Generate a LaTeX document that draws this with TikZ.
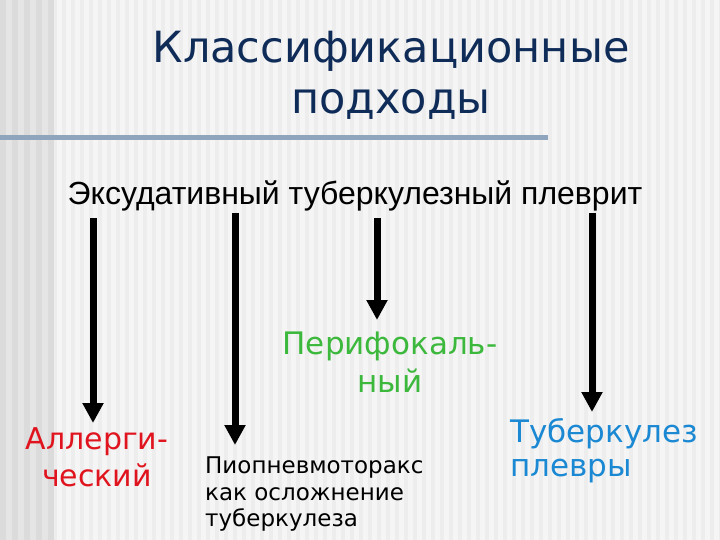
\documentclass[tikz,border=0pt]{standalone}
\usepackage{fontspec}
\setmainfont{DejaVu Sans}
\newfontfamily\arialfont{Liberation Sans}
\usetikzlibrary{arrows.meta,positioning}
\definecolor{navy}{HTML}{0F2C58}
\definecolor{allred}{HTML}{E0141E}
\definecolor{perigreen}{HTML}{3CB83C}
\definecolor{tubblue}{HTML}{1A88D2}
\definecolor{rulecol}{HTML}{8FA5BD}
\begin{document}
\begin{tikzpicture}[x=1pt,y=-1pt,
  arrowline/.style={line width=7pt,-{Triangle[length=20pt,width=20pt]}},
  lbl/.style={inner sep=0pt,font=\fontsize{30}{37}\selectfont}]
\useasboundingbox (0,0) rectangle (720,540);
\fill[black!4] (0,0) rectangle (720,540);
\foreach \x in {53,62,...,720} \fill[black!7] (\x,0) rectangle ++(4,540);
\fill[black!10] (0,0) rectangle (53,540);
\foreach \x in {0,12,...,48} \fill[black!14] (\x,0) rectangle ++(6,540);
\draw[rulecol,line width=5pt] (0,138) -- (548,138);

\node (title) [anchor=north,inner sep=0pt,text=navy,align=center,font=\fontsize{43}{51}\selectfont] at (391,31) {Классификационные\\подходы};
\node (disease) [anchor=base,inner sep=0pt,font=\arialfont\fontsize{32}{36}\selectfont] at (355,205) {Эксудативный туберкулезный плеврит};
\node (allerg) [lbl,anchor=north,align=center,text=allred] at (97,427) {Аллерги-\\ческий};
\node (pyo) [anchor=north west,inner sep=0pt,align=left,font=\fontsize{23}{26.5}\selectfont] at (205,457) {Пиопневмоторакс\\как осложнение\\туберкулеза};
\node (peri) [lbl,anchor=north,align=center,text=perigreen,font=\fontsize{31}{38}\selectfont] at (390,332) {Перифокаль-\\ный};
\node (pleura) [lbl,anchor=north west,align=left,text=tubblue,font=\fontsize{31}{34}\selectfont] at (510,418) {Туберкулез\\плевры};

\coordinate (s1) at (93,218);
\coordinate (e1) at (93,423);
\coordinate (s2) at (235,213);
\coordinate (e2) at (235,445);
\coordinate (s3) at (377,218);
\coordinate (e3) at (377,320);
\coordinate (s4) at (592,213);
\coordinate (e4) at (592,412);

\draw[arrowline] (s1) -- (e1);
\draw[arrowline] (s2) -- (e2);
\draw[arrowline] (s3) -- (e3);
\draw[arrowline] (s4) -- (e4);
\end{tikzpicture}
\end{document}
